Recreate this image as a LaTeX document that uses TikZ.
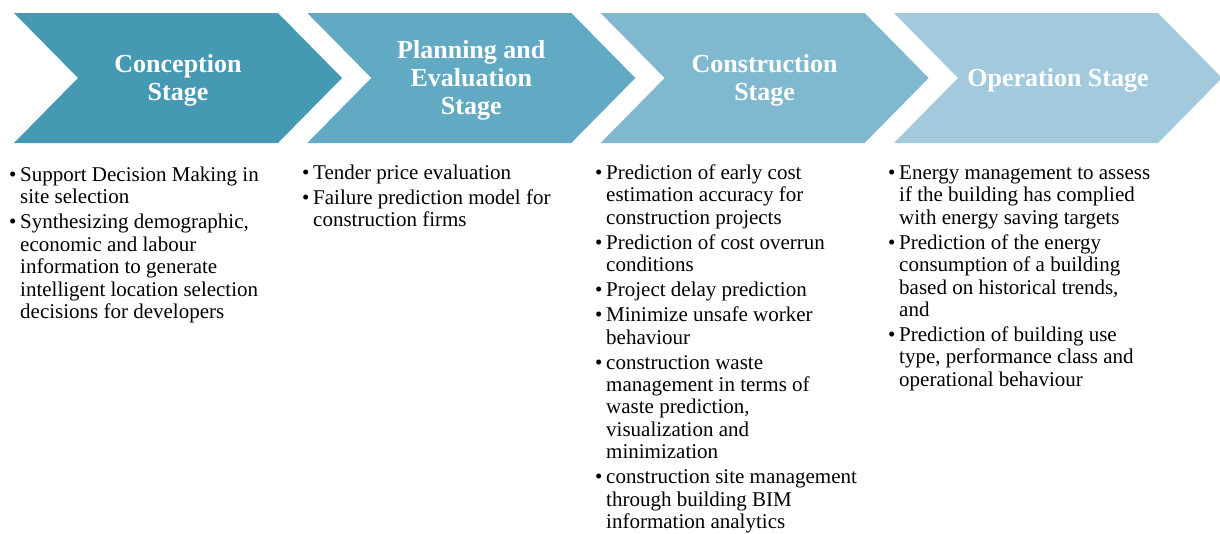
\documentclass[tikz,border=0pt]{standalone}
\usepackage{fontspec}
\setmainfont{Liberation Serif}
\begin{document}
\begin{tikzpicture}[x=1pt,y=-1pt,
  title/.style={text=white,font=\fontsize{26}{28}\selectfont\bfseries,align=center},
  body/.style={inner sep=0pt,font=\fontsize{21}{22.4}\selectfont,anchor=base west}]
\useasboundingbox (0,0) rectangle (1220,533);
\definecolor{c1}{HTML}{4599B3}
\definecolor{c2}{HTML}{62AAC3}
\definecolor{c3}{HTML}{80B9CF}
\definecolor{c4}{HTML}{A2CADC}
\newcommand{\chevshape}[2]{%
  \fill[#2] (#1,13) -- (#1+264,13) -- (#1+328,78) -- (#1+264,143) -- (#1,143) -- (#1+64,78) -- cycle;}
\chevshape{14}{c1}
\chevshape{307.3}{c2}
\chevshape{600.6}{c3}
\chevshape{894}{c4}
\node[title] (t1) at (178,80) {Conception\\Stage};
\node[title] (t2) at (471.3,80) {Planning and\\Evaluation\\Stage};
\node[title] (t3) at (764.6,80) {Construction\\Stage};
\node[title] (t4) at (1058,80) {Operation Stage};
\newcommand{\bu}{\makebox[11pt][l]{\textbullet}}
\node[body] (b1) at (9,181) {\begin{tabular}[t]{@{}l@{}l@{}}
\bu & Support Decision Making in\\
 & site selection\\[3pt]
\bu & Synthesizing demographic,\\
 & economic and labour\\
 & information to generate\\
 & intelligent location selection\\
 & decisions for developers
\end{tabular}};
\node[body] (b2) at (302,179.5) {\begin{tabular}[t]{@{}l@{}l@{}}
\bu & Tender price evaluation\\[2.6pt]
\bu & Failure prediction model for\\
 & construction firms
\end{tabular}};
\node[body] (b3) at (595,179.5) {\begin{tabular}[t]{@{}l@{}l@{}}
\bu & Prediction of early cost\\
 & estimation accuracy for\\
 & construction projects\\[2.6pt]
\bu & Prediction of cost overrun\\
 & conditions\\[2.6pt]
\bu & Project delay prediction\\[2.6pt]
\bu & Minimize unsafe worker\\
 & behaviour\\[2.6pt]
\bu & construction waste\\
 & management in terms of\\
 & waste prediction,\\
 & visualization and\\
 & minimization\\[2.6pt]
\bu & construction site management\\
 & through building BIM\\
 & information analytics
\end{tabular}};
\node[body] (b4) at (888,179.5) {\begin{tabular}[t]{@{}l@{}l@{}}
\bu & Energy management to assess\\
 & if the building has complied\\
 & with energy saving targets\\[2.6pt]
\bu & Prediction of the energy\\
 & consumption of a building\\
 & based on historical trends,\\
 & and\\[2.6pt]
\bu & Prediction of building use\\
 & type, performance class and\\
 & operational behaviour
\end{tabular}};
\end{tikzpicture}
\end{document}
